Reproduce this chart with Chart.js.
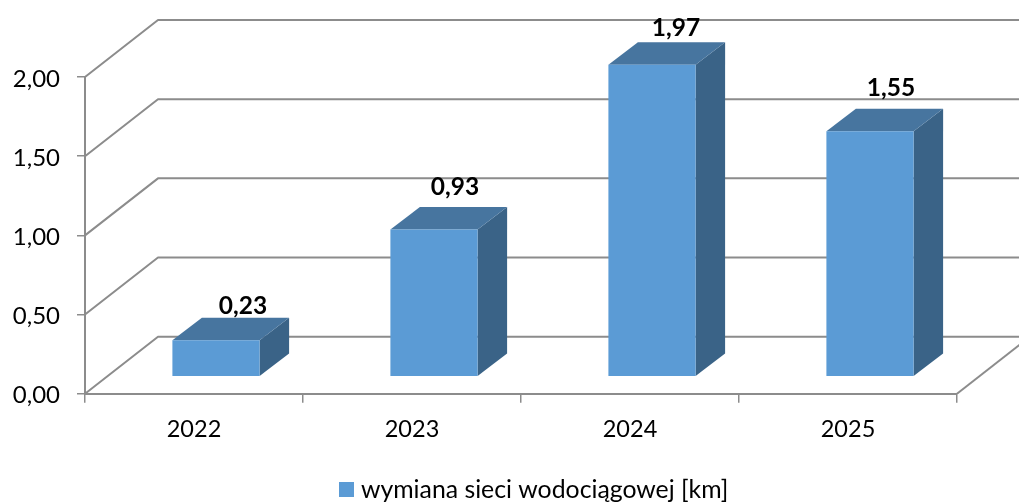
<!DOCTYPE html>
<html>
<head>
<meta charset="utf-8">
<style>
  html, body { margin: 0; padding: 0; background: #ffffff; overflow: hidden; }
  canvas { display: block; }
</style>
<script src="https://cdn.jsdelivr.net/npm/chart.js@4"></script>
</head>
<body>
<canvas id="chart_main" width="1019" height="503"></canvas>
<script>
const categories = ['2022', '2023', '2024', '2025'];
const values = [0.23, 0.93, 1.97, 1.55];
const seriesLabel = 'wymiana sieci wodociągowej [km]';
const yTicks = [0, 0.5, 1, 1.5, 2];

const FONT = "Lato, 'Open Sans', sans-serif";
const GRID = '#8c8c8c';
const FACE = '#5b9bd5';
const TOP = '#47759f';
const SIDE = '#3a6387';
const WALL_DX = 73, WALL_DY = -57;   // floor depth, front axis to back wall
const BAR_DX = 22, BAR_DY = -17;     // bars stand part way into the floor
const BOX_DX = 29.5, BOX_DY = -22.5; // depth of one bar
const LEGEND_DX = 58, LEGEND_DY = 11;
const labelNudgeX = [1, -5, -2, -5];
const labelNudgeY = [2, -6, -1, -7];

function commaNumber(v) {
  return Number(v).toFixed(2).replace('.', ',');
}

function polygon(ctx, points, fill) {
  ctx.beginPath();
  points.forEach((p, i) => i ? ctx.lineTo(p[0], p[1]) : ctx.moveTo(p[0], p[1]));
  ctx.closePath();
  ctx.fillStyle = fill;
  ctx.fill();
}

// legend gap to the text is tied to font size, a canvas swatch gets around it
const legendSwatch = document.createElement('canvas');
legendSwatch.width = 15;
legendSwatch.height = 15;
const swatchCtx = legendSwatch.getContext('2d');
swatchCtx.fillStyle = FACE;
swatchCtx.fillRect(0, 0, 15, 15);

const box3dPlugin = {
  id: 'box3d',
  afterLayout(chart) {
    chart.legend.left += LEGEND_DX;
    chart.legend.right += LEGEND_DX;
    chart.legend.top += LEGEND_DY;
    chart.legend.bottom += LEGEND_DY;
  },
  beforeDatasetsDraw(chart) {
    const ctx = chart.ctx;
    const area = chart.chartArea;
    const yScale = chart.scales.y;
    ctx.save();
    ctx.strokeStyle = GRID;
    ctx.lineWidth = 2;
    ctx.lineJoin = 'round';
    // left wall and back wall lines
    for (const v of yTicks) {
      const y = yScale.getPixelForValue(v);
      ctx.beginPath();
      ctx.moveTo(area.left, y);
      ctx.lineTo(area.left + WALL_DX, y + WALL_DY);
      ctx.lineTo(area.right + WALL_DX, y + WALL_DY);
      ctx.stroke();
    }
    // right edge of the floor
    ctx.beginPath();
    ctx.moveTo(area.right, area.bottom);
    ctx.lineTo(area.right + WALL_DX, area.bottom + WALL_DY);
    ctx.stroke();

    // side and top faces, the front face comes from the library
    ctx.translate(BAR_DX, BAR_DY);
    for (const bar of chart.getDatasetMeta(0).data) {
      const l = bar.x - bar.width / 2;
      const r = bar.x + bar.width / 2;
      polygon(ctx, [[r, bar.y], [r + BOX_DX, bar.y + BOX_DY], [r + BOX_DX, bar.base + BOX_DY], [r, bar.base]], SIDE);
      polygon(ctx, [[l, bar.y], [l + BOX_DX, bar.y + BOX_DY], [r + BOX_DX, bar.y + BOX_DY], [r, bar.y]], TOP);
    }
  },
  afterDatasetsDraw(chart) {
    const ctx = chart.ctx;
    ctx.restore();
    ctx.save();
    ctx.font = 'bold 24.5px ' + FONT;
    ctx.fillStyle = '#000000';
    ctx.textAlign = 'center';
    ctx.textBaseline = 'middle';
    chart.getDatasetMeta(0).data.forEach((bar, i) => {
      ctx.fillText(commaNumber(values[i]), bar.x + 48 + labelNudgeX[i], bar.y - 53 + labelNudgeY[i]);
    });
    ctx.restore();
  }
};

new Chart(document.getElementById('chart_main'), {
  type: 'bar',
  data: {
    labels: categories,
    datasets: [{
      label: seriesLabel,
      data: values,
      backgroundColor: FACE,
      borderWidth: 0,
      barPercentage: 0.4,
      categoryPercentage: 1,
      clip: false
    }]
  },
  options: {
    responsive: false,
    animation: false,
    layout: { padding: { top: 77, right: 62, left: 0, bottom: 2 } },
    scales: {
      x: {
        afterFit: scale => { scale.height = 72.5; },
        ticks: { color: '#000000', padding: 13, font: { size: 23.5, family: FONT } },
        grid: { drawOnChartArea: false, color: GRID, lineWidth: 1.5, tickLength: 9 },
        border: { color: GRID, width: 2 }
      },
      y: {
        min: 0,
        max: 2,
        afterFit: scale => { scale.width = 85; },
        afterBuildTicks: scale => { scale.ticks = yTicks.map(v => ({ value: v })); },
        ticks: {
          color: '#000000',
          padding: 17,
          labelOffset: 2,
          font: { size: 24, family: FONT },
          callback: v => commaNumber(v)
        },
        grid: { drawOnChartArea: false, color: GRID, lineWidth: 1.5, tickLength: 8 },
        border: { color: GRID, width: 2 }
      }
    },
    plugins: {
      tooltip: { enabled: false },
      legend: {
        position: 'bottom',
        labels: {
          usePointStyle: true,
          pointStyle: legendSwatch,
          boxWidth: 4,
          boxHeight: 15,
          padding: 0,
          color: '#000000',
          font: { size: 24.8, family: FONT }
        }
      }
    }
  },
  plugins: [box3dPlugin]
});
</script>
</body>
</html>
